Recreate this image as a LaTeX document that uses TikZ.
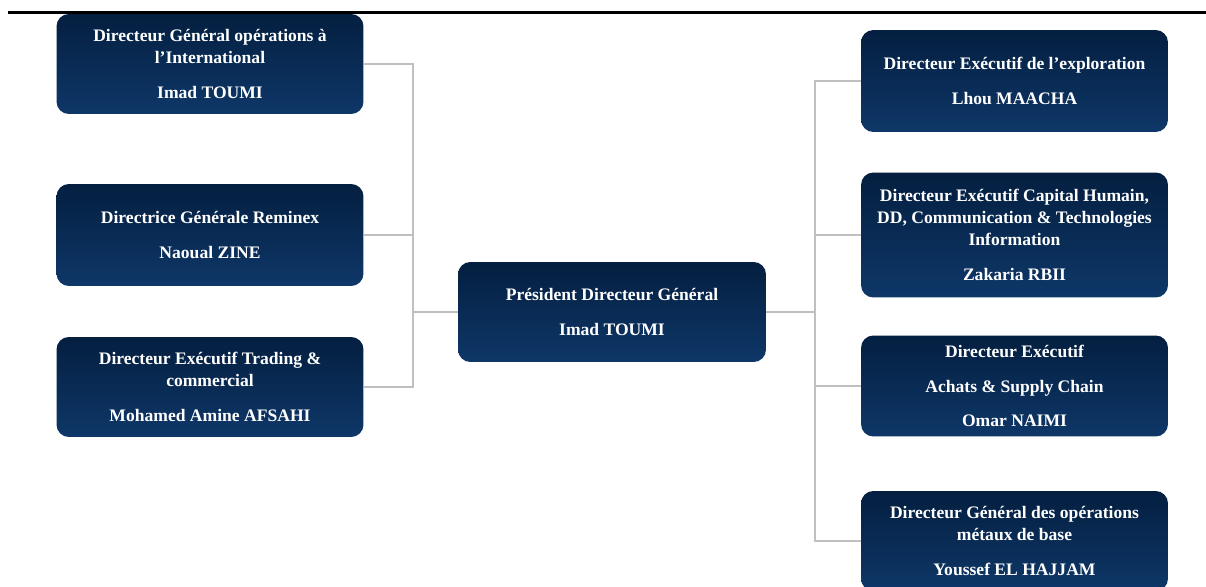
\documentclass[tikz,border=0pt]{standalone}
\usepackage{fontspec}
\setmainfont{Liberation Serif}
\usetikzlibrary{positioning, calc}

\definecolor{navytop}{RGB}{4,31,64}
\definecolor{navybot}{RGB}{14,55,104}
\definecolor{linkgray}{RGB}{192,192,192}

\begin{document}
\begin{tikzpicture}[
    x=0.02cm, y=-0.02cm,
    box/.style={rectangle, rounded corners=7pt, top color=navytop, bottom color=navybot, draw=none,
        minimum width=6.14cm, minimum height=2cm, align=center, text=white,
        font=\fontsize{10}{12.6}\selectfont\bfseries, inner sep=2pt},
    link/.style={draw=linkgray, line width=0.85pt},
    rule/.style={line width=1.4pt, black}
]
    % Frame (pixel units)
    \useasboundingbox (0,0) rectangle (1206,587);
    \def\gap{7.2pt}

    % Top rule
    \coordinate (ruleL) at (8,12.5);
    \coordinate (ruleR) at (1206,12.5);
    \draw[rule] (ruleL) -- (ruleR);

    % Centre
    \node[box, minimum width=6.16cm] (pdg) at (612,312) {Président Directeur Général\\[\gap]Imad TOUMI};

    % Left column
    \node[box] (dgint) at (210,64) {Directeur Général opérations à\\l’International\\[\gap]Imad TOUMI};
    \node[box, minimum height=2.04cm] (dgrem) at (210,235) {Directrice Générale Reminex\\[\gap]Naoual ZINE};
    \node[box] (detrad) at (210,387) {Directeur Exécutif Trading \&\\commercial\\[\gap]Mohamed Amine AFSAHI};

    % Right column
    \node[box, minimum height=2.04cm] (deexp) at (1014.5,81) {Directeur Exécutif de l’exploration\\[\gap]Lhou MAACHA};
    \node[box, minimum height=2.5cm] (decap) at (1014.5,235) {Directeur Exécutif Capital Humain,\\DD, Communication \& Technologies\\Information\\[\gap]Zakaria RBII};
    \node[box, minimum height=2.02cm] (deach) at (1014.5,386) {Directeur Exécutif\\[\gap]Achats \& Supply Chain\\[\gap]Omar NAIMI};
    \node[box] (dgmet) at (1014.5,541) {Directeur Général des opérations\\métaux de base\\[\gap]Youssef EL HAJJAM};

    % Buses
    \coordinate (lbus) at (413,312);
    \coordinate (rbus) at (815,312);

    % Left links
    \draw[link] (pdg.west) -- (lbus);
    \draw[link] (dgint.east) -| (lbus);
    \draw[link] (detrad.east) -| (lbus);
    \draw[link] (dgrem.east) -- (dgrem.east -| lbus);

    % Right links
    \draw[link, line width=1.3pt] (pdg.east) -- (rbus);
    \draw[link] (deexp.west) -| (rbus);
    \draw[link] (dgmet.west) -| (rbus);
    \draw[link] (decap.west) -- (decap.west -| rbus);
    \draw[link] (deach.west) -- (deach.west -| rbus);

\end{tikzpicture}
\end{document}
